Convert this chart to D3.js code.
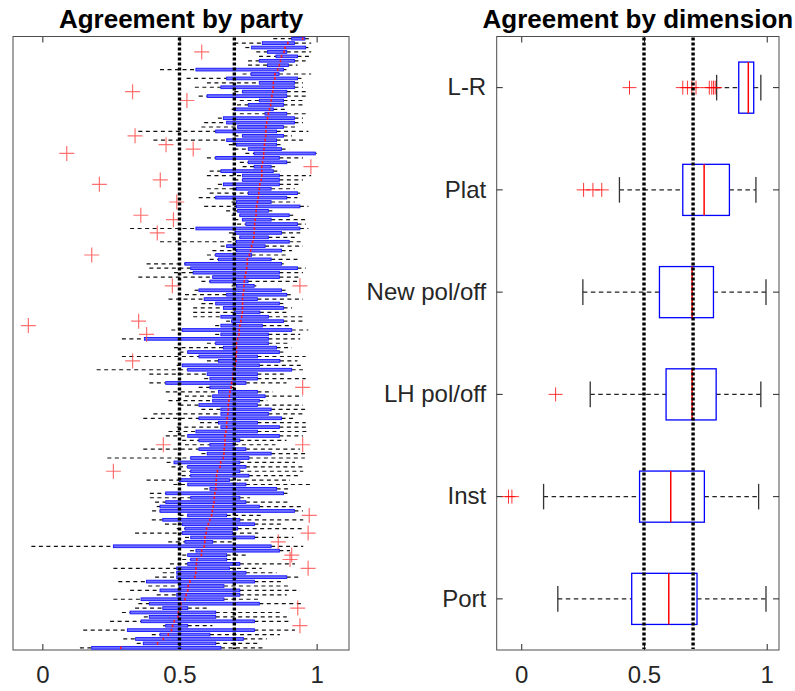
<!DOCTYPE html>
<html>
<head>
<meta charset="utf-8">
<script src="https://d3js.org/d3.v7.min.js"></script>
<style>
  body { margin: 0; background: #fff; }
  text { font-family: "Liberation Sans", Arial, Helvetica, sans-serif; }
</style>
</head>
<body>
<div id="my_dataviz"></div>
<script>
// ---- Agreement by party (one row per party, sorted by median) ----
const partyMed = [
  .949,.895,.885,.881,.872,.868,.864,.858,.848,.848,
  .842,.842,.84,.837,.834,.832,.828,.824,.821,.818,
  .815,.815,.814,.812,.81,.808,.807,.806,.803,.80,
  .80,.80,.798,.793,.791,.789,.787,.784,.781,.779,
  .779,.776,.774,.773,.772,.771,.767,.763,.759,.755,
  .747,.747,.745,.742,.739,.736,.735,.734,.732,.73,
  .73,.73,.729,.727,.724,.72,.718,.717,.712,.708,
  .708,.708,.706,.706,.702,.70,.696,.694,.69,.688,
  .684,.682,.68,.678,.678,.676,.674,.672,.672,.669,
  .666,.666,.665,.663,.662,.66,.65,.648,.638,.635,
  .634,.633,.632,.629,.627,.626,.623,.62,.617,.611,
  .605,.599,.597,.593,.592,.59,.581,.58,.563,.562,
  .56,.559,.556,.538,.532,.53,.524,.52,.505,.504,
  .496,.495,.481,.475,.471,.459,.441,.42,.286];
const partyQ1 = [
  .909,.802,.763,.821,.852,.791,.821,.56,.761,.672,
  .791,.651,.73,.601,.791,.751,.70,.812,.66,.672,
  .712,.632,.73,.672,.708,.751,.772,.632,.751,.772,
  .651,.73,.73,.66,.708,.751,.632,.708,.708,.712,
  .72,.73,.742,.56,.702,.72,.708,.672,.708,.632,
  .642,.52,.541,.55,.621,.611,.708,.571,.672,.59,
  .632,.66,.70,.651,.69,.651,.51,.651,.372,.632,
  .66,.53,.571,.642,.51,.53,.601,.611,.45,.611,
  .642,.621,.621,.571,.651,.651,.571,.642,.651,.56,
  .53,.571,.611,.571,.601,.541,.48,.53,.541,.541,
  .499,.53,.611,.45,.541,.45,.429,.429,.53,.439,
  .51,.52,.51,.541,.52,.259,.56,.53,.541,.53,
  .49,.49,.49,.38,.499,.429,.49,.36,.39,.439,
  .32,.39,.36,.45,.31,.429,.34,.368,.18];
const partyQ3 = [
  .957,.919,.96,.891,.93,.919,.897,.879,.863,.93,
  .919,.919,.891,.891,.879,.879,.842,.891,.919,.919,
  .879,.854,.879,.854,.854,.872,.995,.864,.891,.834,
  .842,.864,.864,.864,.834,.93,.891,.834,.939,.824,
  .90,.834,.93,.939,.872,.824,.90,.812,.872,.763,
  .834,.872,.93,.864,.864,.75,.772,.872,.891,.784,
  .864,.879,.793,.824,.879,.802,.909,.824,.824,.824,
  .854,.864,.784,.866,.791,.909,.784,.784,.742,.69,
  .784,.812,.791,.784,.834,.824,.872,.784,.864,.784,
  .864,.72,.70,.742,.834,.753,.72,.742,.72,.753,
  .682,.742,.854,.879,.72,.742,.791,.919,.672,.72,
  .773,.712,.693,.773,.621,.834,.864,.672,.672,.72,
  .682,.742,.891,.773,.662,.72,.72,.662,.791,.53,
  .632,.632,.773,.53,.773,.611,.733,.632,.651];
const partyLo = [
  .842,.70,.74,.78,.79,.75,.75,.429,.73,.526,
  .60,.556,.70,.57,.72,.71,.69,.72,.64,.59,
  .58,.35,.70,.405,.68,.70,.74,.60,.72,.73,
  .61,.60,.70,.64,.60,.61,.57,.69,.59,.67,
  .69,.70,.71,.32,.68,.69,.429,.65,.62,.60,
  .61,.38,.39,.48,.35,.58,.69,.555,.52,.46,
  .58,.55,.55,.55,.67,.63,.47,.63,.29,.60,
  .48,.50,.29,.60,.49,.198,.39,.59,.39,.57,
  .45,.52,.46,.50,.58,.405,.368,.575,.49,.46,
  .45,.51,.52,.368,.58,.237,.453,.471,.508,.508,
  .38,.478,.59,.392,.392,.411,.417,.40,.50,.399,
  .447,.49,.338,.52,.459,-.04,.538,.51,.51,.465,
  .259,.439,.411,.277,.386,.32,.417,.259,.35,.338,
  .29,.37,.247,.44,.149,.399,.295,.344,.137];
const partyHi = [
  .982,.98,.97,.98,.98,.96,.93,.89,.98,.957,
  .95,.95,.97,.97,.95,.96,.89,.96,.95,.95,
  .93,.97,.91,.95,.88,.90,1.0,.95,.91,.85,
  .87,.98,.95,.94,.92,.94,.93,.92,.97,.84,
  .92,.96,.96,.97,.94,.92,.95,.95,.91,.89,
  .93,.88,.96,.95,.94,.93,.78,.89,.91,.95,
  .89,.91,.89,.95,.95,.91,.97,.94,.94,.90,
  .91,.89,.96,.93,.95,.95,.88,.96,.89,.70,
  .84,.95,.82,.95,.97,.95,.92,.96,.97,.97,
  .95,.89,.85,.939,.97,.957,.921,.951,.951,.939,
  .903,.982,.909,.90,.757,.903,.951,.95,.80,.951,
  .872,.951,.787,.915,.70,.951,.903,.75,.70,.921,
  .80,.854,.939,.879,.903,.939,.891,.793,.951,.60,
  .866,.891,.909,.62,.921,.866,.818,.793,.806];
const partyOutRow = [3,12,14,22,24,25,26,29,33,32,37,40,41,44,49,56,56,65,64,67,73,79,92,92,98,108,112,114,117,118,120,129,133];
const partyOutVal = [.581,.329,.527,.338,.451,.55,.089,.979,.208,.43,.49,.359,.478,.419,.18,.474,.939,-.051,.351,.38,.329,.949,.441,.949,.259,.973,.969,.86,.909,.903,.969,.931,.939];

// ---- Agreement by dimension ----
const dimNames = ["L-R", "Plat", "New pol/off", "LH pol/off", "Inst", "Port"];
const dimQ1  = [.886, .658, .563, .59, .482, .45];
const dimMed = [.925, .745, .696, .696, .609, .601];
const dimQ3  = [.947, .848, .783, .794, .746, .716];
const dimLo  = [.796, .40, .251, .281, .091, .149];
const dimHi  = [.976, .956, .997, .976, .967, .997];
const dimOutliers = [
  [.441, .658, .677, .695, .712, .766, .776, .783, .79],
  [.254, .292, .328],
  [],
  [.14],
  [-.052, -.038],
  []];

const thresholds = [0.5, 0.7];
const xTicks = [0, 0.5, 1];

// Set the dimensions of the graph
const width = 795, height = 691;
const plotTop = 36.5, plotBottom = 650;

const svg = d3.select("#my_dataviz")
    .append("svg")
    .attr("width", width)
    .attr("height", height);

// Scales
const xL = d3.scaleLinear().domain([-0.107, 1.118]).range([13, 349]);
const yL = d3.scaleBand().domain(d3.range(partyMed.length)).range([plotTop, plotBottom]);
const xR = d3.scaleLinear().domain([-0.1, 1.05]).range([496.7, 779]);
const yR = d3.scaleBand().domain(dimNames).range([plotTop, plotBottom]);

const axisColor = "#262626";

function styleAxis(g) {
    g.select(".domain").remove();
    g.selectAll(".tick line").attr("stroke", axisColor);
    g.selectAll(".tick text")
        .attr("fill", axisColor)
        .style("font-size", "24px");
}

function frame(x, title) {
    const x0 = x.range()[0], x1 = x.range()[1];
    svg.append("g")
        .attr("transform", `translate(0, ${plotBottom})`)
        .call(d3.axisBottom(x).tickValues(xTicks).tickFormat(d3.format(""))
            .tickSizeInner(-6).tickSizeOuter(0).tickPadding(16))
        .call(styleAxis);
    svg.append("g")
        .attr("transform", `translate(0, ${plotTop})`)
        .call(d3.axisTop(x).tickValues(xTicks).tickFormat(() => "")
            .tickSizeInner(-6).tickSizeOuter(0))
        .call(styleAxis);
    svg.append("rect")
        .attr("x", x0).attr("y", plotTop)
        .attr("width", x1 - x0).attr("height", plotBottom - plotTop)
        .attr("fill", "none")
        .attr("stroke", "#4d4d4d")
        .attr("stroke-width", 1);
    svg.append("text")
        .attr("x", (x0 + x1) / 2)
        .attr("y", 28)
        .attr("text-anchor", "middle")
        .style("font-size", "26px")
        .style("font-weight", "bold")
        .attr("fill", "#000")
        .text(title);
}

function thresholdLines(x) {
    svg.selectAll(null)
        .data(thresholds)
        .join("line")
        .attr("x1", d => x(d)).attr("x2", d => x(d))
        .attr("y1", plotTop + 1).attr("y2", plotBottom - 1)
        .attr("stroke", "#000")
        .attr("stroke-width", 3.4)
        .attr("stroke-dasharray", "3,2");
}

function crosses(g, pts, size, color, width, opacity) {
    const h = size / 2;
    g.selectAll(null)
        .data(pts)
        .join("path")
        .attr("d", d => `M${d[0] - h},${d[1]}H${d[0] + h}M${d[0]},${d[1] - h}V${d[1] + h}`)
        .attr("stroke", color)
        .attr("stroke-width", width)
        .attr("stroke-opacity", opacity)
        .attr("fill", "none");
}

// ---------------- Left panel ----------------
frame(xL, "Agreement by party");

const rows = d3.range(partyMed.length);
const bwL = yL.bandwidth();
const boxHL = bwL * 0.62;
const cyL = i => yL(i) + bwL / 2;
const gL = svg.append("g");

// Whiskers
gL.selectAll(null).data(rows).join("line")
    .attr("x1", i => xL(partyLo[i])).attr("x2", i => xL(partyQ1[i]))
    .attr("y1", cyL).attr("y2", cyL)
    .attr("stroke", "#111").attr("stroke-width", 1.2).attr("stroke-dasharray", "4,3.5");
gL.selectAll(null).data(rows).join("line")
    .attr("x1", i => xL(partyQ3[i])).attr("x2", i => xL(partyHi[i]))
    .attr("y1", cyL).attr("y2", cyL)
    .attr("stroke", "#111").attr("stroke-width", 1.2).attr("stroke-dasharray", "4,3.5");

// Boxes
gL.selectAll(null).data(rows).join("rect")
    .attr("x", i => xL(partyQ1[i]))
    .attr("y", i => cyL(i) - boxHL / 2)
    .attr("width", i => xL(partyQ3[i]) - xL(partyQ1[i]))
    .attr("height", boxHL)
    .attr("fill", "#7070ff")
    .attr("stroke", "#1414ff")
    .attr("stroke-width", 0.9);

// Medians
gL.selectAll(null).data(rows).join("line")
    .attr("x1", i => xL(partyMed[i])).attr("x2", i => xL(partyMed[i]))
    .attr("y1", i => cyL(i) - boxHL / 2).attr("y2", i => cyL(i) + boxHL / 2)
    .attr("stroke", "#ff1a1a").attr("stroke-width", 1.6);

// Outliers
crosses(gL, partyOutRow.map((r, k) => [xL(partyOutVal[k]), cyL(r)]), 15, "#ff4040", 1.2, 0.75);

thresholdLines(xL);

// ---------------- Right panel ----------------
frame(xR, "Agreement by dimension");

svg.append("g")
    .attr("transform", `translate(${xR.range()[0]}, 0)`)
    .call(d3.axisLeft(yR).tickSizeInner(-6).tickSizeOuter(0).tickPadding(10.5))
    .call(styleAxis);
svg.append("g")
    .attr("transform", `translate(${xR.range()[1]}, 0)`)
    .call(d3.axisRight(yR).tickSizeInner(-6).tickSizeOuter(0).tickFormat(() => ""))
    .call(styleAxis);

const dims = d3.range(dimNames.length);
const bwR = yR.bandwidth();
const boxHR = bwR * 0.5;
const capR = bwR * 0.25;
const cyR = i => yR(dimNames[i]) + bwR / 2;
const gR = svg.append("g");

gR.selectAll(null).data(dims).join("line")
    .attr("x1", i => xR(dimLo[i])).attr("x2", i => xR(dimQ1[i]))
    .attr("y1", cyR).attr("y2", cyR)
    .attr("stroke", "#222").attr("stroke-width", 1.1).attr("stroke-dasharray", "4.5,3.5");
gR.selectAll(null).data(dims).join("line")
    .attr("x1", i => xR(dimQ3[i])).attr("x2", i => xR(dimHi[i]))
    .attr("y1", cyR).attr("y2", cyR)
    .attr("stroke", "#222").attr("stroke-width", 1.1).attr("stroke-dasharray", "4.5,3.5");

// Whisker caps
[dimLo, dimHi].forEach(arr => {
    gR.selectAll(null).data(dims).join("line")
        .attr("x1", i => xR(arr[i])).attr("x2", i => xR(arr[i]))
        .attr("y1", i => cyR(i) - capR / 2).attr("y2", i => cyR(i) + capR / 2)
        .attr("stroke", "#333").attr("stroke-width", 1.3);
});

gR.selectAll(null).data(dims).join("rect")
    .attr("x", i => xR(dimQ1[i]))
    .attr("y", i => cyR(i) - boxHR / 2)
    .attr("width", i => xR(dimQ3[i]) - xR(dimQ1[i]))
    .attr("height", boxHR)
    .attr("fill", "none")
    .attr("stroke", "#0000ff")
    .attr("stroke-width", 1.3);

gR.selectAll(null).data(dims).join("line")
    .attr("x1", i => xR(dimMed[i])).attr("x2", i => xR(dimMed[i]))
    .attr("y1", i => cyR(i) - boxHR / 2).attr("y2", i => cyR(i) + boxHR / 2)
    .attr("stroke", "#ff0000").attr("stroke-width", 1.5);

const dimPts = [];
dimOutliers.forEach((vals, i) => vals.forEach(v => dimPts.push([xR(v), cyR(i)])));
crosses(gR, dimPts, 14, "#ff0000", 1, 0.8);

thresholdLines(xR);
</script>
</body>
</html>
